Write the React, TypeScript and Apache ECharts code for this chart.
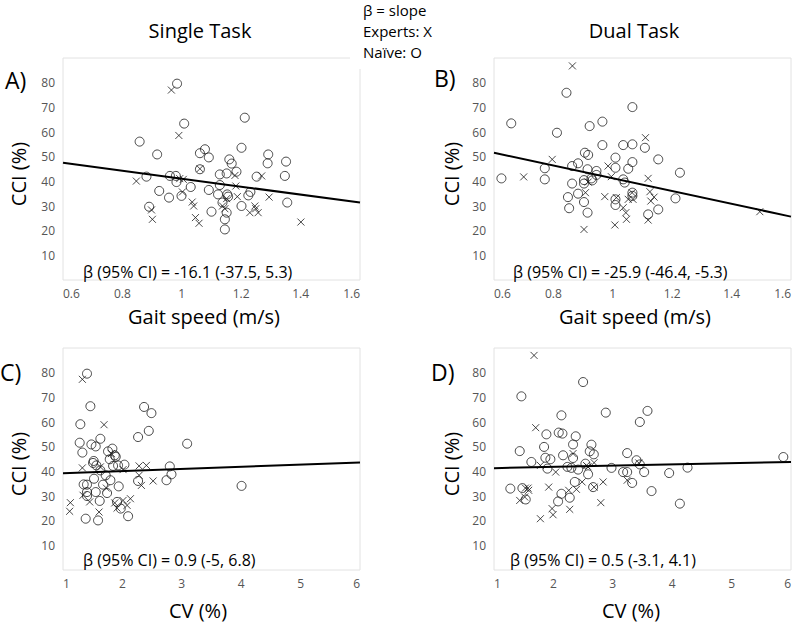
import React, { useEffect, useRef } from "react";
import * as echarts from "echarts";

// ---- Panel A: Single task, gait speed ----
const naiveA: number[][] = [
  [0.858, 56.1], [0.917, 50.9], [0.984, 79.6], [1.008, 63.4], [0.881, 41.9], [0.924, 36.1],
  [0.957, 33.4], [0.89, 29.7], [0.96, 42.2], [0.98, 42.2], [0.982, 39.7], [0.999, 34.1],
  [1.03, 37.7], [1.061, 51.4], [1.078, 53.0], [1.091, 49.7], [1.061, 44.9], [1.091, 36.5],
  [1.1, 27.7], [1.128, 42.8], [1.128, 38.5], [1.122, 34.7], [1.137, 31.4], [1.145, 24.6],
  [1.145, 20.5], [1.151, 27.3], [1.151, 43.2], [1.16, 48.9], [1.168, 47.2], [1.153, 34.7],
  [1.156, 33.8], [1.184, 43.9], [1.201, 53.6], [1.201, 30.0], [1.212, 65.8], [1.224, 34.3],
  [1.231, 35.7], [1.252, 41.9], [1.291, 50.9], [1.289, 47.3], [1.351, 48.0], [1.347, 42.2],
  [1.355, 31.4],
];
const expertA: number[][] = [
  [0.847, 40.1], [0.965, 77.0], [0.99, 58.6], [0.993, 41.1], [1.005, 40.8], [1.002, 35.7],
  [0.898, 28.4], [0.901, 24.6], [1.035, 31.6], [1.04, 30.0], [1.046, 25.3], [1.058, 23.0],
  [1.061, 45.1], [1.137, 30.0], [1.145, 28.9], [1.151, 33.0], [1.179, 42.4], [1.182, 38.1],
  [1.187, 33.8], [1.229, 27.3], [1.246, 30.0], [1.249, 28.9], [1.257, 27.3], [1.269, 42.2],
  [1.294, 33.6], [1.401, 23.5],
];
const fitA: number[][] = [[0.6, 47.5], [1.6, 31.4]];

// ---- Panel B: Dual task, gait speed ----
const naiveB: number[][] = [
  [0.625, 41.2], [0.658, 63.5], [0.771, 45.3], [0.771, 40.8], [0.812, 59.7], [0.844, 75.9],
  [0.849, 33.6], [0.853, 29.1], [0.863, 46.2], [0.863, 39.1], [0.883, 47.3], [0.883, 35.0],
  [0.903, 31.6], [0.906, 51.6], [0.917, 50.7], [0.903, 40.5], [0.903, 39.1], [0.915, 44.9],
  [0.915, 27.3], [0.922, 62.4], [0.928, 41.2], [0.931, 40.4], [0.945, 44.2], [0.945, 42.6],
  [0.965, 64.2], [0.965, 54.7], [1.009, 49.6], [1.009, 45.5], [1.009, 32.7], [1.009, 30.4],
  [1.035, 54.7], [1.035, 40.8], [1.04, 39.5], [1.052, 45.1], [1.066, 70.1], [1.066, 55.0],
  [1.066, 47.8], [1.066, 35.4], [1.066, 34.1], [1.108, 53.6], [1.119, 26.6], [1.153, 48.9],
  [1.153, 28.6], [1.211, 33.1], [1.226, 43.5],
];
const expertB: number[][] = [
  [0.7, 41.8], [0.796, 48.9], [0.864, 86.8], [0.903, 20.5], [0.908, 35.4], [0.917, 39.7],
  [0.973, 33.8], [0.984, 46.2], [0.995, 41.9], [1.007, 22.3], [1.012, 33.4], [1.035, 29.3],
  [1.044, 27.3], [1.046, 24.6], [1.052, 32.7], [1.065, 35.4], [1.068, 32.7], [1.11, 57.7],
  [1.119, 41.2], [1.119, 24.3], [1.125, 35.8], [1.128, 32.0], [1.139, 33.6], [1.495, 27.7],
];
const fitB: number[][] = [[0.6, 51.6], [1.6, 25.7]];

// ---- Panel C: Single task, CV ----
const naiveC: number[][] = [
  [1.404, 79.6], [1.292, 59.1], [1.281, 51.6], [1.326, 47.6], [1.461, 66.4], [1.478, 50.9],
  [1.551, 50.1], [1.629, 53.2], [1.506, 43.4], [1.517, 44.2], [1.562, 42.4], [1.629, 40.4],
  [1.522, 37.0], [1.348, 34.7], [1.404, 34.6], [1.404, 31.6], [1.404, 30.0], [1.551, 31.6],
  [1.618, 28.0], [1.382, 20.8], [1.59, 20.1], [1.674, 34.6], [1.719, 38.4], [1.742, 31.2],
  [1.798, 36.4], [1.758, 48.1], [1.831, 49.2], [1.787, 44.9], [1.871, 46.5], [1.888, 45.9],
  [1.843, 42.2], [1.927, 42.4], [2.034, 42.7], [1.938, 33.9], [1.91, 27.6], [1.972, 24.9],
  [2.096, 21.8], [2.264, 53.9], [2.365, 66.1], [2.489, 63.6], [2.444, 56.4], [2.264, 36.1],
  [2.742, 36.4], [2.798, 42.0], [2.826, 38.8], [3.09, 51.2], [4.006, 34.1],
];
const expertC: number[][] = [
  [1.326, 77.3], [1.326, 41.4], [1.124, 27.3], [1.112, 23.8], [1.337, 30.3], [1.449, 27.6],
  [1.607, 23.5], [1.691, 58.9], [1.629, 41.8], [1.73, 33.2], [1.871, 27.2], [1.91, 25.1],
  [2.011, 40.7], [2.011, 28.2], [2.079, 26.2], [2.135, 28.9], [2.281, 42.2], [2.281, 38.4],
  [2.32, 34.3], [2.404, 42.4], [2.517, 36.1], [1.815, 47.2],
];
const fitC: number[][] = [[1, 39.2], [6, 43.6]];

// ---- Panel D: Dual task, CV ----
const naiveD: number[][] = [
  [1.275, 33.0], [1.433, 48.2], [1.461, 70.4], [1.478, 33.2], [1.534, 28.6], [1.629, 43.8],
  [1.843, 49.9], [1.882, 55.0], [1.865, 45.5], [1.899, 41.1], [1.949, 44.9], [2.079, 27.8],
  [2.135, 30.9], [2.09, 55.7], [2.152, 55.3], [2.135, 62.7], [2.163, 46.5], [2.236, 41.8],
  [2.275, 29.3], [2.303, 41.4], [2.331, 50.9], [2.331, 45.4], [2.36, 35.7], [2.376, 54.2],
  [2.416, 40.7], [2.5, 76.2], [2.539, 43.1], [2.584, 38.8], [2.612, 48.1], [2.64, 50.8],
  [2.669, 33.6], [2.68, 46.9], [2.882, 63.8], [2.978, 41.4], [3.174, 39.7], [3.242, 39.7],
  [3.242, 47.4], [3.326, 35.3], [3.399, 44.5], [3.455, 42.8], [3.455, 60.0], [3.584, 64.5],
  [3.528, 39.7], [3.652, 32.0], [3.949, 39.3], [4.129, 26.9], [4.258, 41.5], [5.871, 45.8],
];
const expertD: number[][] = [
  [1.433, 28.2], [1.517, 29.6], [1.528, 33.2], [1.573, 33.2], [1.584, 32.3], [1.674, 87.0],
  [1.702, 57.7], [1.781, 42.4], [1.781, 20.8], [1.921, 33.6], [1.978, 24.9], [1.994, 22.4],
  [2.039, 39.7], [2.258, 32.3], [2.275, 24.6], [2.331, 47.2], [2.388, 32.7], [2.483, 35.7],
  [2.556, 42.4], [2.584, 41.8], [2.685, 43.5], [2.685, 33.6], [2.798, 27.3], [2.837, 35.7],
  [3.242, 36.4], [3.438, 43.4],
];
const fitD: number[][] = [[1, 41.3], [6, 43.8]];

const panelLabels = ["A)", "B)", "C)", "D)"];
const columnTitles = ["Single Task", "Dual Task"];
const xTitles = ["Gait speed (m/s)", "Gait speed (m/s)", "CV (%)", "CV (%)"];
const yTitle = "CCI (%)";
const betaTexts = [
  "β (95% CI) = -16.1 (-37.5, 5.3)",
  "β (95% CI) = -25.9 (-46.4, -5.3)",
  "β (95% CI) = 0.9 (-5, 6.8)",
  "β (95% CI) = 0.5 (-3.1, 4.1)",
];
const legendLines = ["β = slope", "Experts: X", "Naïve: O"];
const xRanges = [
  { min: 0.6, max: 1.6, interval: 0.2 },
  { min: 0.6, max: 1.6, interval: 0.2 },
  { min: 1, max: 6, interval: 1 },
  { min: 1, max: 6, interval: 1 },
];

const FONT = "'Open Sans', 'DejaVu Sans', sans-serif";
const INK = "#1a1a1a";
const FRAME = "#e2e2e2";
const LABEL = "#555555";

export default function App() {
  const ref = useRef<HTMLDivElement>(null);
  useEffect(() => {
    if (!ref.current) return;
    const chart = echarts.init(ref.current, undefined, { renderer: "svg" });

    const gridsPos = [
      { left: 63, top: 58 },
      { left: 494, top: 58 },
      { left: 63, top: 348 },
      { left: 494, top: 348 },
    ];
    const W = 297;
    const H = 222;
    const naive = [naiveA, naiveB, naiveC, naiveD];
    const expert = [expertA, expertB, expertC, expertD];
    const fits = [fitA, fitB, fitC, fitD];

    const grid = gridsPos.map((g) => ({
      left: g.left,
      top: g.top,
      width: W,
      height: H,
      show: true,
      borderColor: FRAME,
      borderWidth: 1,
      backgroundColor: "transparent",
    }));

    const xAxis = xRanges.map((r, i) => ({
      type: "value",
      gridIndex: i,
      min: r.min,
      max: r.max,
      interval: r.interval,
      axisLine: { show: false },
      axisTick: { show: false },
      splitLine: { show: false },
      axisLabel: {
        color: LABEL,
        fontFamily: FONT,
        fontSize: 12,
        margin: 7,
        alignMinLabel: "left",
        alignMaxLabel: "right",
      },
    }));
    const yAxis = [0, 1, 2, 3].map((i) => ({
      type: "value",
      gridIndex: i,
      min: 0,
      max: 90,
      interval: 10,
      axisLine: { show: false },
      axisTick: { show: false },
      splitLine: { show: false },
      axisLabel: {
        color: LABEL,
        fontFamily: FONT,
        fontSize: 12,
        margin: 8,
        showMinLabel: false,
        showMaxLabel: false,
      },
    }));

    const series: any[] = [];
    for (let i = 0; i < 4; i++) {
      series.push({
        type: "scatter",
        name: "Naïve",
        xAxisIndex: i,
        yAxisIndex: i,
        data: naive[i],
        symbol: "circle",
        symbolSize: 9,
        itemStyle: { color: "rgba(0,0,0,0)", borderColor: INK, borderWidth: 1 },
        emphasis: { disabled: true },
        z: 3,
      });
      series.push({
        type: "scatter",
        name: "Experts",
        xAxisIndex: i,
        yAxisIndex: i,
        data: expert[i],
        symbol: "path://M0 0L10 10M10 0L0 10",
        symbolSize: 7,
        itemStyle: { color: "rgba(0,0,0,0)", borderColor: INK, borderWidth: 1 },
        emphasis: { disabled: true },
        z: 3,
      });
      series.push({
        type: "line",
        xAxisIndex: i,
        yAxisIndex: i,
        data: fits[i],
        symbol: "none",
        lineStyle: { color: "#000", width: 2 },
        emphasis: { disabled: true },
        z: 4,
      });
    }

    const textEl = (
      text: string,
      x: number,
      y: number,
      size: number,
      align: string,
      extra: any = {}
    ) => ({
      type: "text",
      x,
      y,
      z: 120,
      ...extra,
      style: {
        text,
        x: 0,
        y: 0,
        font: `${size}px ${FONT}`,
        fill: "#000",
        textAlign: align,
        textVerticalAlign: "middle",
      },
    });

    const graphic: any[] = [
      {
        type: "rect",
        z: 100,
        shape: { x: 350, y: 0, width: 92, height: 69 },
        style: { fill: "#fff" },
      },
      textEl(columnTitles[0], 200, 30, 20, "center"),
      textEl(columnTitles[1], 634, 30, 20, "center"),
      textEl(legendLines[0], 363, 10, 15, "left"),
      textEl(legendLines[1], 363, 31, 15, "left"),
      textEl(legendLines[2], 363, 52, 15, "left"),
      textEl(panelLabels[0], 5, 80, 23, "left"),
      textEl(panelLabels[1], 434, 78, 23, "left"),
      textEl(panelLabels[2], 0, 372, 23, "left"),
      textEl(panelLabels[3], 431, 372, 23, "left"),
      textEl(yTitle, 18, 174, 20, "center", { rotation: Math.PI / 2 }),
      textEl(yTitle, 451, 174, 20, "center", { rotation: Math.PI / 2 }),
      textEl(yTitle, 18, 464, 20, "center", { rotation: Math.PI / 2 }),
      textEl(yTitle, 451, 464, 20, "center", { rotation: Math.PI / 2 }),
      textEl(xTitles[0], 204, 316, 20, "center"),
      textEl(xTitles[1], 635, 316, 20, "center"),
      textEl(xTitles[2], 198, 610, 20, "center"),
      textEl(xTitles[3], 631, 610, 20, "center"),
      textEl(betaTexts[0], 83, 272, 16, "left"),
      textEl(betaTexts[1], 513, 272, 16, "left"),
      textEl(betaTexts[2], 83, 560, 16, "left"),
      textEl(betaTexts[3], 510, 560, 16, "left"),
    ];

    chart.setOption({
      animation: false,
      backgroundColor: "#fff",
      grid,
      xAxis,
      yAxis,
      series,
      graphic,
    });
    return () => chart.dispose();
  }, []);

  return (
    <div
      ref={ref}
      style={{ position: "absolute", left: 0, top: 0, width: 795, height: 622 }}
    />
  );
}
